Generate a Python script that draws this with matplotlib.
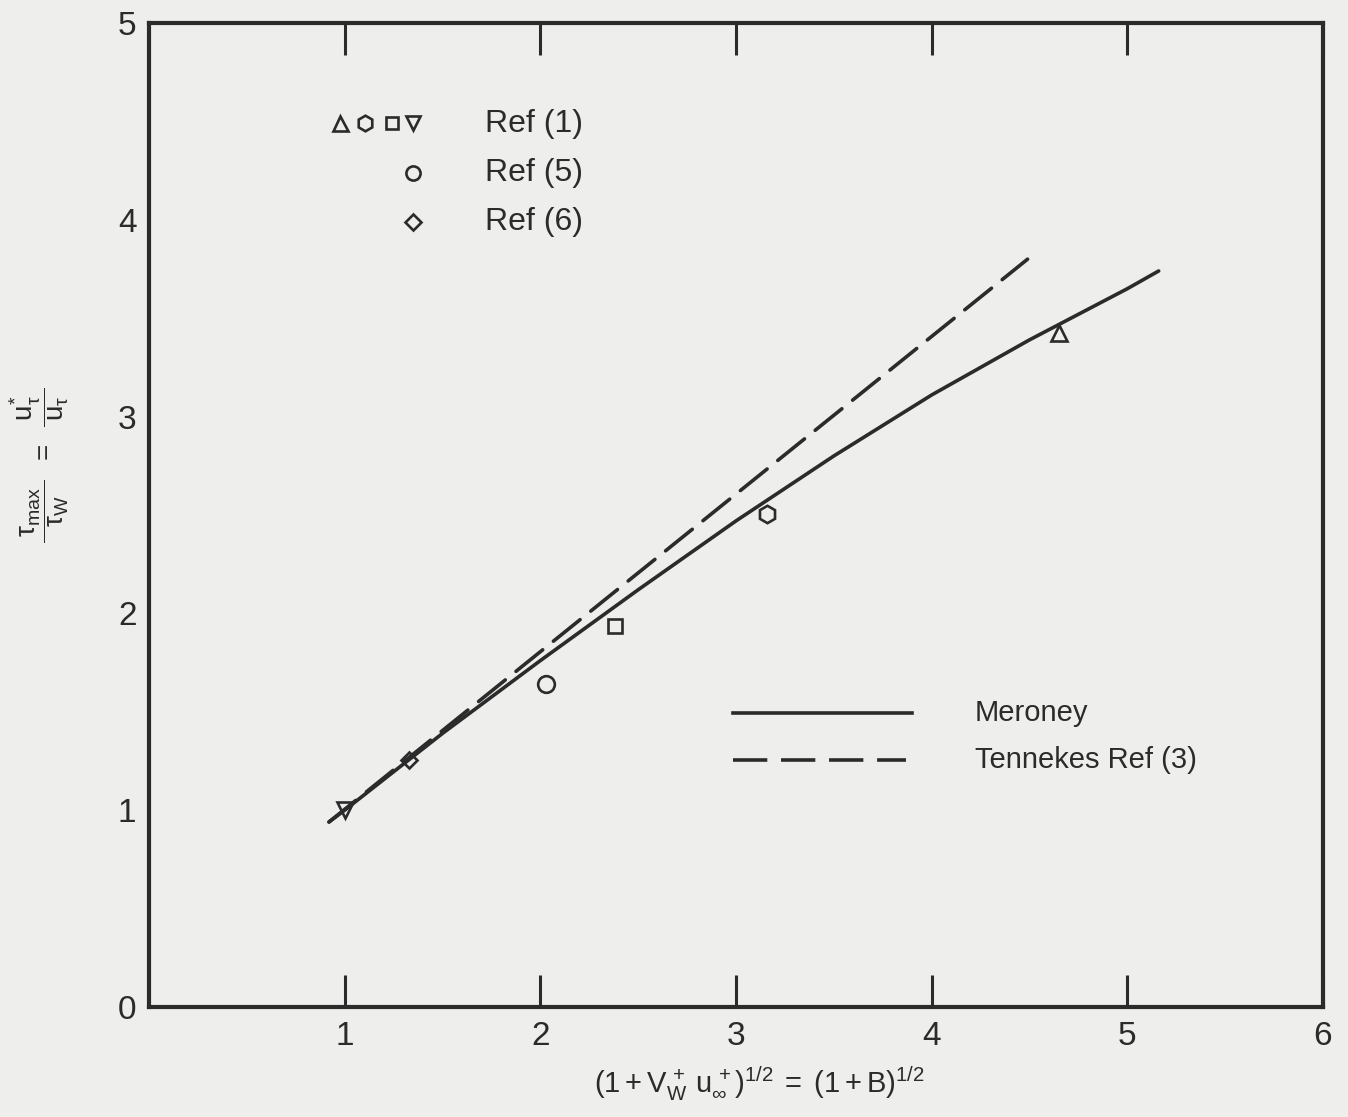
import matplotlib
matplotlib.use("Agg")
import matplotlib.pyplot as plt
import numpy as np

plt.rcParams['font.family'] = ['Liberation Sans', 'DejaVu Sans']
plt.rcParams['mathtext.fontset'] = 'custom'
plt.rcParams['mathtext.rm'] = 'Liberation Sans'
plt.rcParams['mathtext.it'] = 'Liberation Sans:italic'
plt.rcParams['mathtext.default'] = 'regular'

INK = '#2b2b2b'
PAPER = '#eeeeec'

# Meroney curve
meroney_x = [0.92, 1.0, 1.5, 2.0, 2.5, 3.0, 3.5, 4.0, 4.5, 5.0, 5.16]
meroney_y = [0.94, 1.0, 1.39, 1.76, 2.12, 2.47, 2.80, 3.11, 3.39, 3.65, 3.74]

# Tennekes Ref (3), straight dashed line
tennekes_x = [0.92, 4.49]
tennekes_y = [0.94, 3.80]

# data points
ref1_markers = ['^', 'h', 's', 'v']
ref1_x = [4.65, 3.16, 2.38, 1.0]
ref1_y = [3.425, 2.505, 1.935, 1.0]
ref5_x = [2.03]
ref5_y = [1.64]
ref6_x = [1.33]
ref6_y = [1.255]

x_ticks = [1, 2, 3, 4, 5, 6]
y_ticks = [0, 1, 2, 3, 4, 5]

msize = {'^': 12, 'h': 12.5, 's': 10, 'v': 11, 'o': 12, 'D': 8.5}


def pt(ax, x, y, m, scale=1.0, **kw):
    ax.plot(x, y, linestyle='none', marker=m, ms=msize[m] * scale, mfc='none',
            mec=INK, mew=1.9, **kw)


fig = plt.figure(figsize=(13.48, 11.17), dpi=100, facecolor=PAPER)
ax = fig.add_axes([0.1105, 0.0985, 0.871, 0.8809], facecolor=PAPER)

ax.plot(meroney_x, meroney_y, color=INK, lw=2.6, solid_capstyle='round',
        solid_joinstyle='round')
ax.plot(tennekes_x, tennekes_y, color=INK, lw=2.6, dashes=(9.5, 3.8),
        dash_capstyle='round')

for m, x, y in zip(ref1_markers, ref1_x, ref1_y):
    pt(ax, x, y, m)
pt(ax, ref5_x, ref5_y, 'o')
pt(ax, ref6_x, ref6_y, 'D')

# upper legend (markers)
tr = ax.transAxes
for m, xf in zip(ref1_markers, [0.1627, 0.184, 0.207, 0.2249]):
    pt(ax, [xf], [0.898], m, scale=0.9, transform=tr)
pt(ax, [0.2249], [0.8476], 'o', scale=0.85, transform=tr)
pt(ax, [0.2249], [0.7978], 'D', scale=0.95, transform=tr)
for label, yf in zip(['Ref (1)', 'Ref (5)', 'Ref (6)'], [0.8974, 0.8476, 0.7978]):
    ax.text(0.2862, yf, label, transform=tr, fontsize=23, color=INK,
            va='center', ha='left')

# lower legend (lines)
ax.plot([0.4974, 0.650], [0.2988, 0.2988], color=INK, lw=2.6, transform=tr)
ax.plot([0.4974, 0.645], [0.251, 0.251], color=INK, lw=2.6,
        dashes=(9.5, 3.8), transform=tr)
ax.text(0.7036, 0.2988, 'Meroney', transform=tr, fontsize=21, color=INK,
        va='center', ha='left')
ax.text(0.7036, 0.251, 'Tennekes Ref (3)', transform=tr, fontsize=21,
        color=INK, va='center', ha='left')

ax.set_xlim(0, 6)
ax.set_ylim(0, 5)
ax.set_xticks(x_ticks)
ax.set_yticks(y_ticks)
ax.tick_params(direction='in', length=23, width=2.2, colors=INK,
               labelsize=24, top=True, right=True, pad=9)
ax.tick_params(axis='x', pad=10)
for t in ax.xaxis.get_major_ticks():
    if t.get_loc() == 6:
        t.tick1line.set_visible(False)
        t.tick2line.set_visible(False)
for t in ax.yaxis.get_major_ticks():
    if t.get_loc() in (0, 5):
        t.tick1line.set_visible(False)
        t.tick2line.set_visible(False)
for s in ax.spines.values():
    s.set_linewidth(3.0)
    s.set_color(INK)

ax.set_xlabel(r'$(1+V_W^{\,+}\;u_\infty^{\,+})^{1/2}\;=\;(1+B)^{1/2}$',
              fontsize=21, color=INK)
ax.xaxis.set_label_coords(0.52, -0.058)
ax.set_ylabel(r'$\dfrac{\;\tau_{max}\;}{\tau_W}\;\;=\;\;\dfrac{\;u_\tau^{*}\;}{u_\tau}$',
              fontsize=20, color=INK)
ax.yaxis.set_label_coords(-0.066, 0.55)

fig.savefig('out.png', dpi=100, facecolor=PAPER)
